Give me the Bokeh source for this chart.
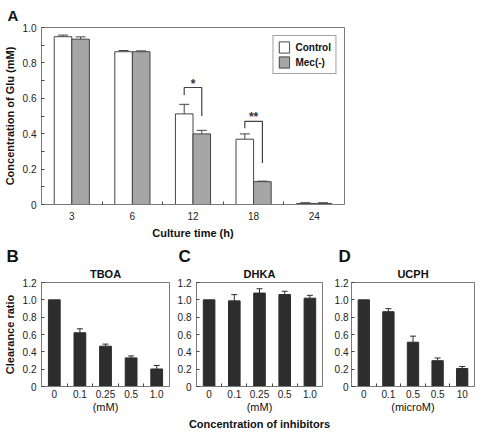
from bokeh.plotting import figure
from bokeh.layouts import column, row
from bokeh.models import (ColumnDataSource, Whisker, TeeHead, FixedTicker,
                          Legend, LegendItem, Title)
from bokeh.embed import file_html
from bokeh.resources import INLINE
from bokeh.core.properties import value

FONT = "Liberation Sans"

# ---------------- Panel A data ----------------
culture_time = ["3", "6", "12", "18", "24"]
control_mean = [0.948, 0.863, 0.512, 0.369, 0.006]
control_err_top = [0.957, 0.870, 0.566, 0.399, 0.010]
mec_mean = [0.934, 0.863, 0.399, 0.129, 0.006]
mec_err_top = [0.947, 0.868, 0.419, 0.132, 0.010]
series_names = ["Control", "Mec(-)"]
sig_index = [2, 3]
sig_top = [0.661, 0.470]
sig_left_bottom = [0.618, 0.431]
sig_right_bottom = [0.500, 0.234]
sig_text = ["*", "**"]
a_yticks = [0, 0.2, 0.4, 0.6, 0.8, 1.0]
a_ytick_labels = ["0", "0.2", "0.4", "0.6", "0.8", "1.0"]
a_yminor = [0.1, 0.3, 0.5, 0.7, 0.9]

# ---------------- Panels B-D data ----------------
inhib_names = ["TBOA", "DHKA", "UCPH"]
inhib_letters = ["B", "C", "D"]
tboa_labels = ["0", "0.1", "0.25", "0.5", "1.0"]
dhka_labels = ["0", "0.1", "0.25", "0.5", "1.0"]
ucph_labels = ["0", "0.1", "0.5", "0.5", "10"]
tboa_ratio = [1.0, 0.620, 0.465, 0.330, 0.202]
tboa_err_top = [None, 0.666, 0.489, 0.353, 0.243]
dhka_ratio = [1.0, 0.988, 1.078, 1.061, 1.019]
dhka_err_top = [None, 1.060, 1.128, 1.099, 1.052]
ucph_ratio = [1.0, 0.863, 0.511, 0.298, 0.208]
ucph_err_top = [None, 0.898, 0.581, 0.329, 0.231]
unit_labels = ["(mM)", "(mM)", "(microM)"]
b_yticks = [0, 0.2, 0.4, 0.6, 0.8, 1.0, 1.2]
b_ytick_labels = ["0", "0.2", "0.4", "0.6", "0.8", "1.0", "1.2"]
common_xlabel = "Concentration of inhibitors"

EDGE = "#444444"
FRAME = "#7a7a7a"
DARK = "#2d2d2d"


def style(p, label_standoff=5):
    p.outline_line_color = FRAME
    p.outline_line_width = 1
    p.grid.visible = False
    p.background_fill_color = "white"
    p.border_fill_color = "white"
    for ax in p.axis:
        ax.axis_line_color = FRAME
        ax.major_tick_line_color = EDGE
        ax.minor_tick_line_color = EDGE
        ax.major_label_text_font = FONT
        ax.major_label_text_font_size = "10px"
        ax.major_label_text_color = "#222222"
        ax.axis_label_text_font = FONT
        ax.axis_label_text_font_size = "11px"
        ax.axis_label_text_font_style = "bold"
        ax.axis_label_text_color = "#111111"
    for ax in p.yaxis:
        ax.major_tick_in = 3
        ax.major_tick_out = 0
        ax.minor_tick_in = 3
        ax.minor_tick_out = 0
        ax.major_label_standoff = label_standoff
        ax.axis_label_standoff = 4
    for ax in p.xaxis:
        ax.major_tick_in = 0
        ax.major_tick_out = 0
        ax.minor_tick_in = 3
        ax.minor_tick_out = 0


def title_style(t, size):
    t.text_font = FONT
    t.text_font_size = size
    t.text_font_style = "bold"
    t.text_color = "#111111"


# ---------------- Panel A ----------------
n = len(culture_time)
xs = list(range(1, n + 1))
BW = 0.29
off = BW / 2

pA = figure(width=482, height=242, x_range=(0.5, n + 0.5), y_range=(0, 1.0),
            min_border_left=38, min_border_right=138, min_border_top=27,
            min_border_bottom=38, output_backend="svg", toolbar_location=None,
            tools="")
pA.title.text = "A"
pA.title.align = "left"
pA.title.offset = -34
pA.title.standoff = 7
title_style(pA.title, "15px")

rc = pA.vbar(x=[x - off for x in xs], top=control_mean, width=BW,
             fill_color="white", line_color=EDGE, line_width=1)
rm = pA.vbar(x=[x + off for x in xs], top=mec_mean, width=BW,
             fill_color="#a6a6a6", line_color=EDGE, line_width=1)

for shift, mean, errt in ((-off, control_mean, control_err_top),
                          (off, mec_mean, mec_err_top)):
    src = ColumnDataSource(dict(x=[x + shift for x in xs], lower=mean, upper=errt))
    pA.add_layout(Whisker(source=src, base="x", lower="lower", upper="upper",
                          dimension="height", line_color=EDGE, line_width=1,
                          upper_head=TeeHead(size=10, line_color=EDGE, line_width=1),
                          lower_head=None))

br_xs, br_ys, tx, ty = [], [], [], []
for i, t, lb, rb in zip(sig_index, sig_top, sig_left_bottom, sig_right_bottom):
    c = xs[i]
    br_xs.append([c - off, c - off, c + off, c + off])
    br_ys.append([lb, t, t, rb])
    tx.append(c)
    ty.append(t)
pA.multi_line(br_xs, br_ys, line_color=EDGE, line_width=1.2)
pA.text(x=tx, y=ty, text=sig_text, text_align="center", text_baseline="bottom",
        text_font=value(FONT), text_font_size="12px", text_font_style="bold",
        text_color="#333333", y_offset=3)

pA.xaxis.ticker = FixedTicker(ticks=xs, minor_ticks=[x + 0.5 for x in xs[:-1]])
pA.xaxis.major_label_overrides = {x: lab for x, lab in zip(xs, culture_time)}
pA.xaxis.axis_label = "Culture time (h)"
pA.yaxis.ticker = FixedTicker(ticks=a_yticks, minor_ticks=a_yminor)
pA.yaxis.major_label_overrides = dict(zip(a_yticks, a_ytick_labels))
pA.yaxis.axis_label = "Concentration of Glu (mM)"
style(pA)
pA.xaxis.major_label_standoff = 7
pA.xaxis.axis_label_standoff = 4

legend = Legend(items=[LegendItem(label=series_names[0], renderers=[rc]),
                       LegendItem(label=series_names[1], renderers=[rm])],
                location="top_right", margin=8, padding=4, spacing=1,
                glyph_width=13, glyph_height=14, label_height=14,
                label_standoff=5, label_text_font=FONT,
                label_text_font_size="10px", label_text_font_style="bold",
                label_text_color="#111111", border_line_color=EDGE,
                border_line_width=1, background_fill_alpha=1)
pA.add_layout(legend)

# ---------------- Panels B-D ----------------
ratios = [tboa_ratio, dhka_ratio, ucph_ratio]
err_tops = [tboa_err_top, dhka_err_top, ucph_err_top]
xlabels = [tboa_labels, dhka_labels, ucph_labels]
widths = [174, 157, 151]
left_borders = [38, 20, 17]
right_borders = [5, 9, 8]
ylab_standoffs = [5, 5, 3]
letter_offsets = [-35, -18, -13]
panels = []
for k in range(3):
    m = len(ratios[k])
    bx = list(range(1, m + 1))
    p = figure(width=widths[k], height=188, x_range=(0.5, m + 0.5),
               y_range=(0, 1.2), min_border_left=left_borders[k],
               min_border_right=right_borders[k], min_border_top=40,
               min_border_bottom=44, output_backend="svg",
               toolbar_location=None, tools="")
    p.title.text = inhib_letters[k]
    p.title.align = "left"
    p.title.offset = letter_offsets[k]
    p.title.standoff = -5
    title_style(p.title, "17px")
    p.add_layout(Title(text=inhib_names[k], align="center", standoff=5,
                       text_font=FONT, text_font_size="11px",
                       text_font_style="bold", text_color="#111111"), "above")
    p.vbar(x=bx, top=ratios[k], width=0.46, fill_color=DARK, line_color=DARK)
    ex = [x for x, e in zip(bx, err_tops[k]) if e is not None]
    el = [r for r, e in zip(ratios[k], err_tops[k]) if e is not None]
    eu = [e for e in err_tops[k] if e is not None]
    src = ColumnDataSource(dict(x=ex, lower=el, upper=eu))
    p.add_layout(Whisker(source=src, base="x", lower="lower", upper="upper",
                         dimension="height", line_color=DARK, line_width=1,
                         upper_head=TeeHead(size=6, line_color=DARK, line_width=1),
                         lower_head=None))
    p.xaxis.ticker = FixedTicker(ticks=bx, minor_ticks=[x + 0.5 for x in bx[:-1]])
    p.xaxis.major_label_overrides = {x: lab for x, lab in zip(bx, xlabels[k])}
    p.xaxis.axis_label = unit_labels[k]
    p.yaxis.ticker = FixedTicker(ticks=b_yticks)
    p.yaxis.major_label_overrides = dict(zip(b_yticks, b_ytick_labels))
    if k == 0:
        p.yaxis.axis_label = "Clearance ratio"
    style(p, ylab_standoffs[k])
    p.xaxis.major_label_standoff = 3
    p.xaxis.axis_label_standoff = 0
    p.xaxis.axis_label_text_font_style = "normal"
    if k == 1:
        p.add_layout(Title(text=common_xlabel, align="center", offset=-3,
                           standoff=0, text_font=FONT, text_font_size="11px",
                           text_font_style="bold", text_color="#111111"), "below")
    panels.append(p)

layout = column(pA, row(*panels))
open("out.html", "w").write(file_html(layout, INLINE))
